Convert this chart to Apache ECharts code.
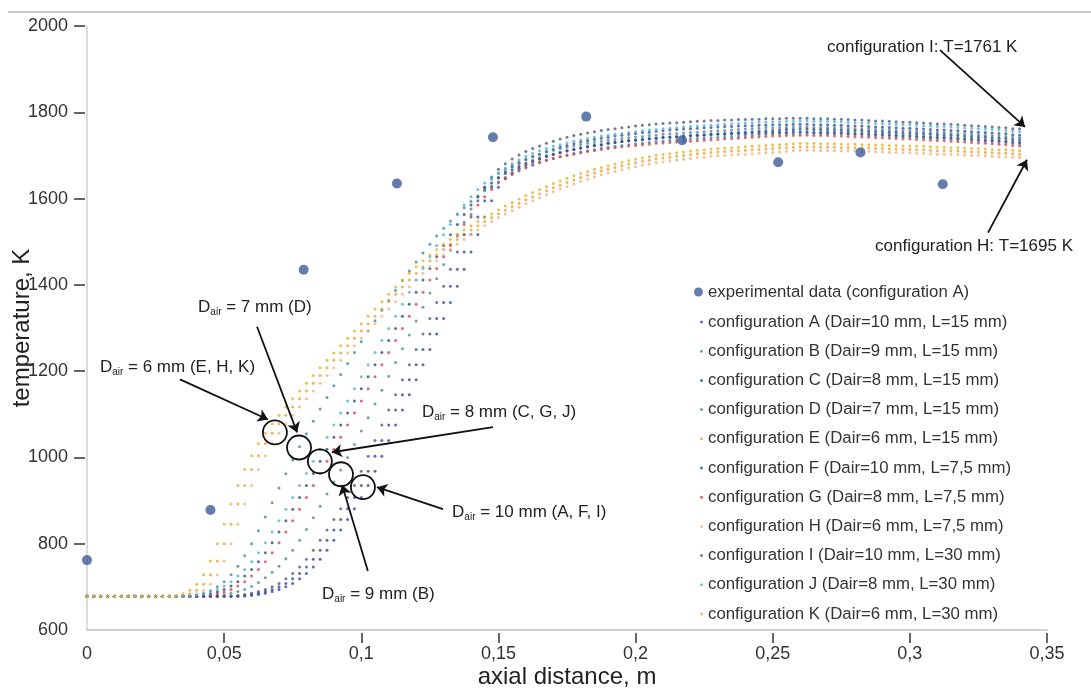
<!DOCTYPE html>
<html>
<head>
<meta charset="utf-8">
<title>Axial temperature profiles</title>
<script src="https://cdn.jsdelivr.net/npm/echarts@6/dist/echarts.min.js"></script>
<style>
  html, body { margin: 0; padding: 0; background: #ffffff; }
  #chart { width: 1091px; height: 688px; }
</style>
</head>
<body>
<div id="chart"></div>
<script>
// ---- measured data ----
const expName = 'experimental data (configuration A)';
const expX = [0, 0.045, 0.079, 0.113, 0.148, 0.182, 0.217, 0.252, 0.282, 0.312];
const expT = [762, 878, 1435, 1635, 1742, 1790, 1735, 1684, 1707, 1633];

// ---- simulated profiles, sampled every 2.5 mm from the inlet ----
const STEP_M = 0.0025;

const configNames = [
  'configuration A (Dair=10 mm, L=15 mm)',
  'configuration B (Dair=9 mm, L=15 mm)',
  'configuration C (Dair=8 mm, L=15 mm)',
  'configuration D (Dair=7 mm, L=15 mm)',
  'configuration E (Dair=6 mm, L=15 mm)',
  'configuration F (Dair=10 mm, L=7,5 mm)',
  'configuration G (Dair=8 mm, L=7,5 mm)',
  'configuration H (Dair=6 mm, L=7,5 mm)',
  'configuration I (Dair=10 mm, L=30 mm)',
  'configuration J (Dair=8 mm, L=30 mm)',
  'configuration K (Dair=6 mm, L=30 mm)'
];

const tempA = [
678,678,678,678,678,678,678,678,678,678,
678,678,678,678,678,678,678,678,678,678,
678,678,679,680,682,685,689,694,700,708,
719,731,746,764,785,808,832,856,881,907,
935,968,1003,1039,1075,1110,1145,1180,1215,1250,
1286,1322,1359,1397,1436,1476,1517,1557,1595,1626,
1648,1662,1673,1682,1690,1697,1703,1709,1714,1719,
1723,1727,1731,1734,1737,1740,1742,1745,1747,1749,
1751,1753,1754,1756,1757,1759,1760,1761,1762,1763,
1764,1765,1766,1767,1767,1768,1769,1769,1770,1770,
1771,1771,1771,1772,1772,1772,1771,1771,1771,1770,
1770,1769,1768,1768,1767,1766,1766,1765,1764,1763,
1763,1762,1761,1760,1759,1759,1758,1757,1756,1755,
1754,1753,1752,1751,1750,1748,1747];

const tempB = [
678,678,678,678,678,678,678,678,678,678,
678,678,678,678,678,678,678,678,679,680,
682,685,689,694,701,710,721,734,748,765,
785,808,833,860,887,915,943,971,1000,1030,
1061,1092,1124,1156,1188,1220,1252,1284,1316,1348,
1381,1414,1447,1480,1513,1545,1576,1604,1627,1645,
1658,1668,1677,1685,1692,1698,1703,1708,1712,1716,
1719,1722,1725,1728,1730,1733,1735,1737,1739,1741,
1743,1744,1746,1747,1749,1750,1751,1752,1753,1754,
1755,1756,1757,1758,1759,1760,1761,1762,1763,1764,
1764,1765,1765,1766,1766,1766,1765,1765,1765,1764,
1764,1763,1762,1762,1761,1760,1760,1759,1758,1757,
1757,1756,1755,1754,1753,1753,1752,1751,1750,1749,
1748,1747,1746,1745,1744,1742,1741];

const tempC = [
678,678,678,678,678,678,678,678,678,678,
678,678,678,678,678,678,679,681,684,688,
694,702,712,725,740,758,779,802,827,853,
880,907,935,963,991,1019,1047,1075,1103,1131,
1159,1187,1215,1243,1271,1299,1327,1355,1383,1411,
1438,1465,1491,1516,1540,1563,1585,1604,1621,1636,
1648,1658,1667,1675,1682,1688,1694,1699,1703,1707,
1711,1714,1717,1720,1723,1725,1728,1730,1732,1734,
1736,1737,1739,1740,1742,1743,1744,1745,1746,1747,
1748,1749,1750,1751,1752,1753,1754,1755,1756,1757,
1758,1759,1760,1760,1761,1761,1760,1760,1760,1759,
1759,1758,1757,1757,1756,1755,1755,1754,1753,1752,
1752,1751,1750,1749,1748,1748,1747,1746,1745,1744,
1743,1742,1741,1740,1739,1737,1736];

const tempD = [
678,678,678,678,678,678,678,678,678,678,
678,678,678,678,678,679,681,685,691,700,
712,728,748,772,800,830,862,895,929,962,
994,1025,1055,1084,1112,1139,1166,1192,1218,1243,
1268,1293,1317,1341,1364,1387,1410,1432,1453,1474,
1494,1513,1531,1548,1564,1579,1593,1606,1618,1629,
1639,1648,1656,1664,1671,1677,1683,1688,1693,1697,
1701,1705,1708,1711,1714,1717,1719,1721,1723,1725,
1727,1729,1730,1732,1733,1735,1736,1737,1738,1739,
1740,1741,1742,1743,1744,1745,1746,1747,1748,1749,
1749,1750,1751,1751,1752,1752,1751,1751,1751,1750,
1750,1749,1748,1748,1747,1746,1746,1745,1744,1743,
1743,1742,1741,1740,1739,1739,1738,1737,1736,1735,
1734,1733,1732,1731,1730,1728,1727];

const tempE = [
678,678,678,678,678,678,678,678,678,678,
678,678,678,678,680,684,692,706,728,760,
800,845,892,935,972,1004,1032,1056,1078,1098,
1117,1136,1154,1172,1190,1208,1225,1242,1259,1276,
1293,1310,1327,1344,1361,1378,1395,1411,1427,1442,
1456,1469,1482,1494,1505,1516,1527,1537,1547,1556,
1565,1573,1581,1589,1597,1604,1611,1618,1625,1631,
1637,1643,1649,1654,1659,1664,1668,1672,1676,1680,
1683,1686,1689,1692,1694,1696,1698,1700,1702,1704,
1705,1707,1708,1709,1710,1711,1712,1713,1714,1715,
1716,1717,1718,1719,1720,1720,1720,1719,1719,1719,
1718,1718,1718,1717,1717,1716,1716,1715,1715,1714,
1714,1713,1713,1712,1711,1711,1710,1710,1709,1708,
1708,1707,1706,1705,1705,1704,1703];

const tempF = [
678,678,678,678,678,678,678,678,678,678,
678,678,678,678,678,678,678,678,678,678,
678,678,678,679,680,682,685,689,694,700,
708,719,731,746,764,785,808,832,856,881,
907,935,968,1003,1039,1075,1110,1145,1180,1215,
1250,1286,1322,1359,1397,1436,1476,1517,1557,1595,
1626,1646,1660,1670,1678,1685,1691,1697,1702,1706,
1710,1714,1717,1720,1723,1725,1728,1730,1732,1734,
1735,1737,1738,1740,1741,1742,1743,1744,1745,1746,
1747,1748,1749,1749,1750,1751,1751,1752,1752,1753,
1753,1754,1754,1755,1755,1755,1754,1754,1754,1753,
1753,1752,1751,1751,1750,1749,1749,1748,1747,1746,
1746,1745,1744,1743,1742,1742,1741,1740,1739,1738,
1737,1736,1735,1734,1733,1731,1730];

const tempG = [
678,678,678,678,678,678,678,678,678,678,
678,678,678,678,678,678,678,679,681,684,
688,694,702,712,725,740,758,779,802,827,
853,880,907,935,963,991,1019,1047,1075,1103,
1131,1159,1187,1215,1243,1271,1299,1327,1355,1383,
1411,1438,1465,1491,1516,1540,1563,1585,1604,1621,
1636,1648,1658,1666,1673,1679,1684,1689,1693,1697,
1700,1703,1706,1709,1711,1714,1716,1718,1720,1722,
1723,1725,1726,1728,1729,1730,1731,1732,1733,1734,
1735,1736,1737,1738,1739,1740,1741,1742,1743,1744,
1745,1745,1746,1746,1747,1747,1746,1746,1746,1745,
1745,1744,1743,1743,1742,1741,1741,1740,1739,1738,
1738,1737,1736,1735,1734,1734,1733,1732,1731,1730,
1729,1728,1727,1726,1725,1723,1722];

const tempH = [
678,678,678,678,678,678,678,678,678,678,
678,678,678,678,678,680,684,692,706,728,
760,800,845,892,935,972,1004,1032,1056,1078,
1098,1117,1136,1154,1172,1190,1208,1225,1242,1259,
1276,1293,1310,1327,1344,1361,1378,1395,1411,1427,
1442,1456,1469,1482,1494,1505,1516,1527,1537,1547,
1556,1564,1572,1580,1588,1595,1602,1609,1616,1622,
1628,1634,1640,1645,1650,1655,1659,1663,1667,1671,
1674,1677,1680,1683,1685,1687,1689,1691,1693,1695,
1696,1698,1699,1700,1701,1702,1703,1704,1705,1706,
1707,1708,1709,1711,1712,1712,1712,1711,1711,1711,
1710,1710,1710,1709,1709,1708,1708,1707,1707,1706,
1706,1705,1705,1704,1703,1703,1702,1702,1701,1700,
1700,1699,1698,1697,1697,1696,1695];

const tempI = [
678,678,678,678,678,678,678,678,678,678,
678,678,678,678,678,678,678,678,678,678,
678,679,680,682,685,689,694,700,708,719,
731,746,764,785,808,832,856,881,907,935,
968,1003,1039,1075,1110,1145,1180,1215,1250,1286,
1322,1359,1397,1436,1476,1517,1557,1595,1626,1650,
1668,1681,1692,1701,1709,1716,1722,1728,1733,1738,
1742,1746,1749,1752,1755,1758,1760,1762,1764,1766,
1768,1770,1771,1773,1774,1775,1776,1777,1778,1779,
1780,1781,1781,1782,1782,1783,1783,1784,1784,1785,
1785,1785,1786,1786,1786,1786,1785,1785,1785,1784,
1784,1783,1782,1782,1781,1780,1780,1779,1778,1777,
1777,1776,1775,1774,1773,1773,1772,1771,1770,1769,
1768,1767,1766,1765,1764,1762,1761];

const tempJ = [
678,678,678,678,678,678,678,678,678,678,
678,678,678,678,678,679,681,684,688,694,
702,712,725,740,758,779,802,827,853,880,
907,935,963,991,1019,1047,1075,1103,1131,1159,
1187,1215,1243,1271,1299,1327,1355,1383,1411,1438,
1465,1491,1516,1540,1563,1585,1604,1621,1636,1649,
1660,1671,1681,1690,1698,1705,1711,1716,1721,1725,
1729,1733,1736,1739,1742,1745,1747,1749,1751,1753,
1755,1757,1759,1760,1762,1763,1764,1766,1767,1768,
1769,1770,1771,1772,1773,1774,1775,1776,1777,1777,
1778,1778,1779,1779,1780,1780,1779,1779,1779,1778,
1778,1777,1776,1776,1775,1774,1774,1773,1772,1771,
1771,1770,1769,1768,1767,1767,1766,1765,1764,1763,
1762,1761,1760,1759,1758,1756,1755];

const tempK = [
678,678,678,678,678,678,678,678,678,678,
678,678,678,680,684,692,706,728,760,800,
845,892,935,972,1004,1032,1056,1078,1098,1117,
1136,1154,1172,1190,1208,1225,1242,1259,1276,1293,
1310,1327,1344,1361,1378,1395,1411,1427,1442,1456,
1469,1482,1494,1505,1516,1527,1537,1547,1556,1565,
1574,1583,1591,1599,1607,1614,1621,1628,1635,1641,
1647,1653,1658,1663,1668,1672,1676,1680,1684,1688,
1691,1694,1697,1700,1702,1704,1706,1708,1710,1712,
1713,1715,1716,1717,1718,1719,1720,1721,1722,1723,
1724,1725,1726,1727,1728,1728,1728,1727,1727,1727,
1726,1726,1726,1725,1725,1724,1724,1723,1723,1722,
1722,1721,1721,1720,1719,1719,1718,1718,1717,1716,
1716,1715,1714,1713,1713,1712,1711];

const configTemps = [tempA, tempB, tempC, tempD, tempE, tempF, tempG, tempH, tempI, tempJ, tempK];

// ---- axis ticks ----
const xTickValues = [0.05, 0.1, 0.15, 0.2, 0.25, 0.3, 0.35];
const yTickValues = [800, 1000, 1200, 1400, 1600, 1800, 2000];

// ---- styling ----
const FONT = '"Liberation Sans", Arial, Helvetica, sans-serif';
const configColors = [
  '#3d4a8f', '#4f8c99', '#2f4f7a', '#3b8f9e', '#e8a33a',
  '#324a9e', '#d9434f', '#f0b47a', '#505a7a', '#4fb4d8', '#e6b422'
];

// ---- annotations (data coordinates: m, K) ----
const ringCentres = [[0.0685, 1058], [0.0773, 1023], [0.0849, 991], [0.0926, 961], [0.1006, 931]];
const noteArrows = [
  { from: [0.0339, 1181], to: [0.0660, 1088] },
  { from: [0.0620, 1303], to: [0.0766, 1058] },
  { from: [0.1480, 1070], to: [0.0893, 1012] },
  { from: [0.1298, 880],  to: [0.1057, 931] },
  { from: [0.1024, 737],  to: [0.0930, 936] },
  { from: [0.3110, 1944], to: [0.3420, 1766] },
  { from: [0.3285, 1521], to: [0.3427, 1690] }
];
const airNotes = [
  { at: [0.0047, 1209], tail: ' = 6 mm (E, H, K)' },
  { at: [0.0405, 1347], tail: ' = 7 mm (D)' },
  { at: [0.1221, 1104], tail: ' = 8 mm (C, G, J)' },
  { at: [0.1331, 873],  tail: ' = 10 mm (A, F, I)' },
  { at: [0.0857, 683],  tail: ' = 9 mm (B)' }
];
const endNotes = [
  { at: [0.2698, 1951], text: 'configuration I: T=1761 K' },
  { at: [0.2873, 1489], text: 'configuration H: T=1695 K' }
];

const fmtComma = v => (v === 0 ? '0' : String(+v.toFixed(2)).replace('.', ','));

const chart = echarts.init(document.getElementById('chart'), null, { renderer: 'canvas' });

const configSeries = configNames.map((name, k) => ({
  name,
  type: 'scatter',
  symbol: 'circle',
  symbolSize: 3,
  z: 2,
  itemStyle: { color: configColors[k] },
  emphasis: { disabled: true },
  data: configTemps[k].map((t, i) => [+(i * STEP_M).toFixed(4), t])
}));

const textMarks = [
  ...airNotes.map(n => ({
    coord: n.at,
    formatter: () => '{m|D}{s|air}{m|' + n.tail + '}'
  })),
  ...endNotes.map(n => ({
    coord: n.at,
    formatter: () => '{m|' + n.text + '}'
  }))
];

const expSeries = {
  name: expName,
  type: 'scatter',
  symbol: 'circle',
  symbolSize: 10,
  z: 4,
  itemStyle: { color: '#3e5b9a' },
  emphasis: { disabled: true },
  data: expX.map((x, i) => [x, expT[i]]),
  markLine: {
    silent: true,
    symbol: ['none', 'arrow'],
    symbolSize: 10,
    label: { show: false },
    emphasis: { disabled: true },
    itemStyle: { color: '#111111' },
    lineStyle: { color: '#111111', width: 1.8, type: 'solid' },
    data: noteArrows.map(a => [{ coord: a.from }, { coord: a.to }])
  },
  markPoint: {
    silent: true,
    data: [
      ...ringCentres.map(c => ({
        coord: c,
        symbol: 'circle',
        symbolSize: 24,
        itemStyle: { color: 'rgba(0,0,0,0)', borderColor: '#111111', borderWidth: 1.8 },
        label: { show: false }
      })),
      ...textMarks.map(t => ({
        coord: t.coord,
        symbol: 'circle',
        symbolSize: 0,
        itemStyle: { color: 'rgba(0,0,0,0)' },
        label: {
          show: true,
          position: 'right',
          distance: 0,
          formatter: t.formatter,
          rich: {
            m: { fontFamily: FONT, fontSize: 17, color: '#222222', lineHeight: 20 },
            s: { fontFamily: FONT, fontSize: 10, color: '#222222', lineHeight: 10, verticalAlign: 'bottom' }
          }
        }
      }))
    ]
  }
};

const legendText = { fontFamily: FONT, fontSize: 16.8, color: '#333333', lineHeight: 18 };

chart.setOption({
  animation: false,
  backgroundColor: '#ffffff',
  textStyle: { fontFamily: FONT },
  graphic: [{
    type: 'line',
    silent: true,
    shape: { x1: 8, y1: 12, x2: 1091, y2: 12 },
    style: { stroke: '#9a9a9a', lineWidth: 1 }
  }],
  grid: { left: 87, right: 44, top: 26, bottom: 58, containLabel: false, outerBoundsMode: 'none' },
  legend: [
    {
      orient: 'vertical', left: 694, top: 283, padding: 0,
      itemWidth: 9, itemHeight: 9,
      selectedMode: false,
      data: [{ name: expName, icon: 'circle' }],
      textStyle: legendText
    },
    {
      orient: 'vertical', left: 700, top: 313, padding: 0,
      itemWidth: 3, itemHeight: 3, itemGap: 11.2,
      selectedMode: false,
      data: configNames.map(n => ({ name: n, icon: 'circle' })),
      textStyle: legendText
    }
  ],
  xAxis: {
    type: 'value', min: 0, max: 0.35, interval: 0.05,
    name: 'axial distance, m', nameLocation: 'middle', nameGap: 35, nameMoveOverlap: false,
    nameTextStyle: { fontFamily: FONT, fontSize: 24, color: '#222222' },
    axisLine: { show: true, lineStyle: { color: '#d0d0d0', width: 2 } },
    axisTick: {
      show: true, customValues: xTickValues, length: 13,
      lineStyle: { color: '#333333', width: 1.5, type: [0, 3, 10, 40] }
    },
    axisLabel: { margin: 15, fontFamily: FONT, fontSize: 18, color: '#333333', formatter: fmtComma },
    splitLine: { show: false }
  },
  yAxis: {
    type: 'value', min: 600, max: 2000, interval: 200,
    name: 'temperature, K', nameLocation: 'middle', nameGap: 53, nameRotate: 90, nameMoveOverlap: false,
    nameTextStyle: { fontFamily: FONT, fontSize: 24, color: '#222222' },
    axisLine: { show: true, lineStyle: { color: '#d0d0d0', width: 1.5 } },
    axisTick: {
      show: true, customValues: yTickValues, length: 13,
      lineStyle: { color: '#333333', width: 1.5, type: [0, 2, 11, 40] }
    },
    axisLabel: { margin: 19, fontFamily: FONT, fontSize: 18, color: '#333333', formatter: v => String(v) },
    splitLine: { show: false }
  },
  series: [expSeries, ...configSeries]
});
</script>
</body>
</html>
